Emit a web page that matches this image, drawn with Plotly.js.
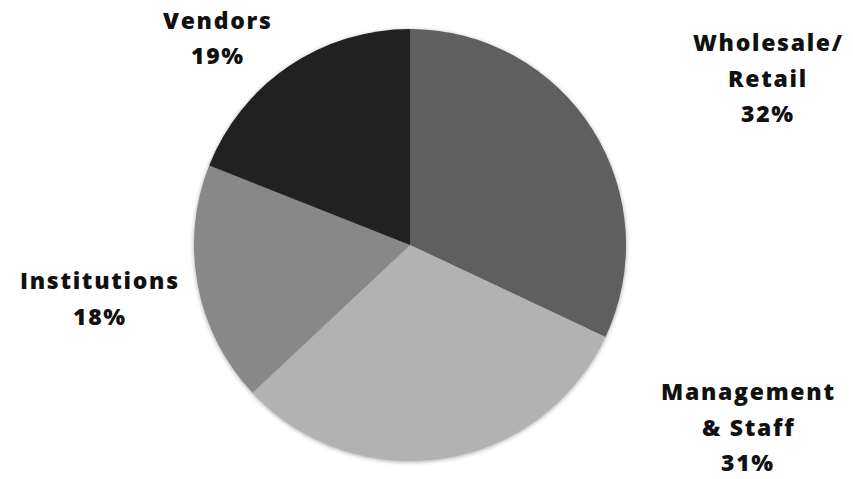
<!DOCTYPE html>
<html>
<head>
<meta charset="utf-8">
<script src="https://cdn.plot.ly/plotly-3.0.1.min.js"></script>
<style>
  html, body { margin: 0; padding: 0; background: #ffffff; }
  #chart { width: 853px; height: 479px; }
  .annotation-text { letter-spacing: 1.7px; }
  .pielayer { filter: drop-shadow(0px 1px 2px rgba(0,0,0,0.35)); }
</style>
</head>
<body>
<div id="chart"></div>
<script>
const categories = ["Wholesale/Retail", "Management & Staff", "Institutions", "Vendors"];
const labelLines = [["Wholesale/", "Retail"], ["Management", "& Staff"], ["Institutions"], ["Vendors"]];
const shares = [32, 31, 18, 19];
const colors = ["#5f5f5f", "#b2b2b2", "#888888", "#212121"];

const W = 853, H = 479;
// label block anchors in pixels: [center x, first-line center y]
const labelPos = [[768, 41], [748, 390], [100, 279], [218, 19]];
const lineGap = 35.5;

const annotations = [];
labelLines.forEach((lines, i) => {
  const all = lines.concat([shares[i] + "%"]);
  all.forEach((t, j) => {
    annotations.push({
      text: t,
      x: labelPos[i][0] / W,
      y: 1 - (labelPos[i][1] + j * lineGap + 1) / H,
      xref: "paper", yref: "paper",
      xanchor: "center", yanchor: "middle",
      showarrow: false,
      font: { family: "Open Sans", size: 23, color: "#111111", weight: 800 }
    });
  });
});

const cx = 410, cy = 245, r = 216;
const data = [{
  type: "pie",
  labels: categories,
  values: shares,
  sort: false,
  direction: "clockwise",
  rotation: 0,
  textinfo: "none",
  hoverinfo: "label+percent",
  marker: { colors: colors, line: { width: 0 } },
  domain: {
    x: [(cx - r) / W, (cx + r) / W],
    y: [1 - (cy + r) / H, 1 - (cy - r) / H]
  }
}];

const layout = {
  width: W, height: H,
  margin: { l: 0, r: 0, t: 0, b: 0 },
  paper_bgcolor: "#ffffff",
  showlegend: false,
  annotations: annotations
};

Plotly.newPlot("chart", data, layout, { displayModeBar: false, staticPlot: true });
</script>
</body>
</html>
